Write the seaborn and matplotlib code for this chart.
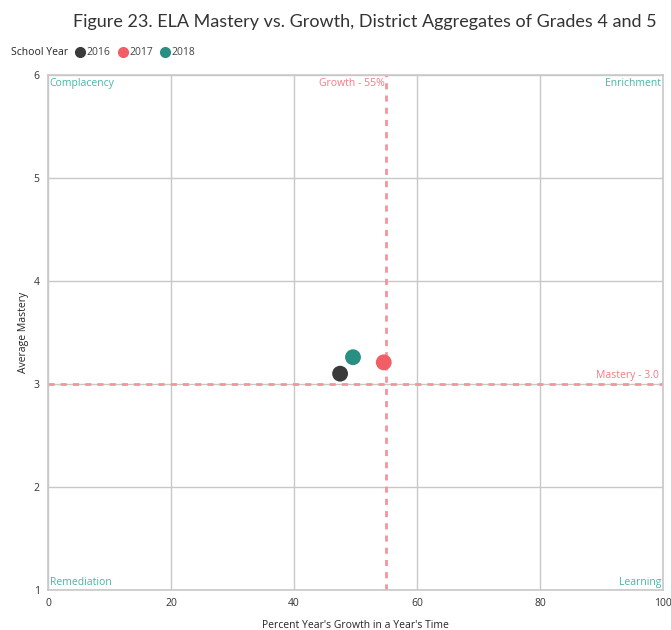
import matplotlib
matplotlib.use("Agg")
import matplotlib.pyplot as plt
import seaborn as sns
import pandas as pd

# District aggregates, grades 4 and 5
years = ["2016", "2017", "2018"]
growth_pct = [47.5, 54.6, 49.6]
avg_mastery = [3.10, 3.21, 3.26]
year_colors = ["#3a3a3a", "#f25e66", "#2a8f83"]

growth_target = 55
mastery_target = 3.0

x_ticks = [0, 20, 40, 60, 80, 100]
y_ticks = [1, 2, 3, 4, 5, 6]

df = pd.DataFrame({"School Year": years,
                   "Growth": growth_pct,
                   "Mastery": avg_mastery})

sns.set_theme(style="white")
plt.rcParams["font.family"] = ["Open Sans", "DejaVu Sans"]

fig = plt.figure(figsize=(6.71, 6.30), dpi=100)
ax = fig.add_axes([0.0715, 0.0635, 0.9165, 0.8175])

grid_c = "#c8c8c8"
ref_c = "#f5959b"
teal_txt = "#45b8a6"

ax.set_xlim(0, 100)
ax.set_ylim(1, 6)
ax.set_xticks(x_ticks)
ax.set_yticks(y_ticks)
ax.grid(True, color=grid_c, linewidth=1.0)
ax.set_axisbelow(True)
for s in ax.spines.values():
    s.set_color(grid_c)
    s.set_linewidth(1.2)

ax.axvline(growth_target, color=ref_c, linestyle=(0, (2.2, 2.2)), linewidth=2.0, zorder=2)
ax.axhline(mastery_target, color=ref_c, linestyle=(0, (2.2, 2.2)), linewidth=2.0, zorder=2)

sns.scatterplot(data=df, x="Growth", y="Mastery", hue="School Year",
                palette=year_colors, s=130, edgecolor="none", legend=False,
                ax=ax, zorder=3)

ax.text(growth_target - 0.3, 5.97, f"Growth - {growth_target}%", color="#f27a82",
        fontsize=7.5, ha="right", va="top")
ax.text(99.3, mastery_target + 0.03, f"Mastery - {mastery_target:.1f}", color="#f27a82",
        fontsize=7.5, ha="right", va="bottom")

ax.text(0.3, 5.97, "Complacency", color=teal_txt, fontsize=7.5, ha="left", va="top")
ax.text(99.7, 5.97, "Enrichment", color=teal_txt, fontsize=7.5, ha="right", va="top")
ax.text(0.3, 1.02, "Remediation", color=teal_txt, fontsize=7.5, ha="left", va="bottom")
ax.text(99.7, 1.02, "Learning", color=teal_txt, fontsize=7.5, ha="right", va="bottom")

ax.tick_params(axis="both", labelsize=7.5, colors="#333333", length=0, pad=6)
ax.set_xlabel("Percent Year's Growth in a Year's Time", fontsize=7.5, color="#252525", labelpad=8)
ax.set_ylabel("Average Mastery", fontsize=7.5, color="#252525", labelpad=3)

fig.text(0.544, 0.965, "Figure 23. ELA Mastery vs. Growth, District Aggregates of Grades 4 and 5",
         ha="center", va="center", fontsize=13, color="#333333",
         family=["Lato", "DejaVu Sans"])

# legend row
fig.text(0.017, 0.917, "School Year", fontsize=7.5, color="#252525", va="center", ha="left")
lx = [0.119, 0.183, 0.246]
for xpos, yr, c in zip(lx, years, year_colors):
    fig.lines.append(matplotlib.lines.Line2D([xpos], [0.917], marker="o", markersize=7,
                                             color=c, linestyle="none",
                                             transform=fig.transFigure))
    fig.text(xpos + 0.010, 0.917, yr, fontsize=7.5, color="#444444", va="center", ha="left")

fig.savefig("out.png", dpi=100)
